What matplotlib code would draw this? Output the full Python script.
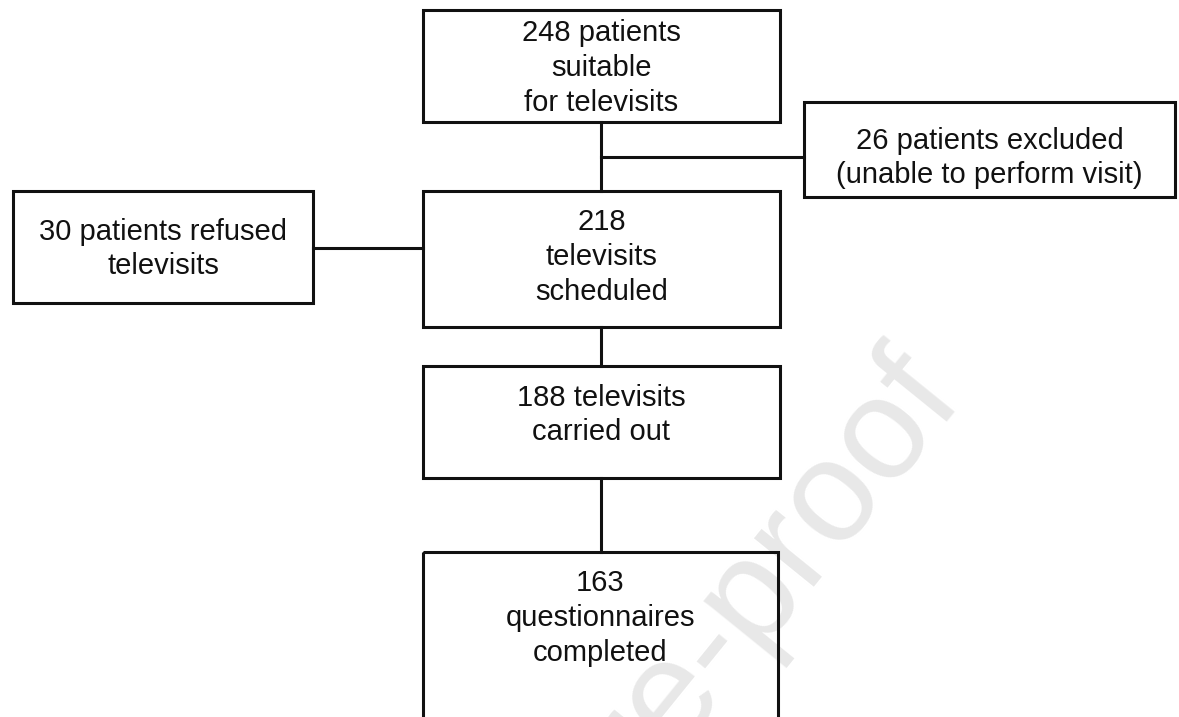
import matplotlib.pyplot as plt
from matplotlib.patches import Rectangle

plt.rcParams['font.family'] = ['Liberation Sans', 'DejaVu Sans']

# box texts of the flow chart
labels = [
    "248 patients\nsuitable\nfor televisits",
    "26 patients excluded\n(unable to perform visit)",
    "30 patients refused\ntelevisits",
    "218\ntelevisits\nscheduled",
    "188 televisits\ncarried out",
    "163\nquestionnaires\ncompleted",
]

# layout in pixel coordinates: (left, top, right, bottom, text_y)
layout = [
    (423, 10, 780, 122, 68),
    (804, 102, 1175, 197, 158),
    (13, 191, 313, 303, 249),
    (423, 191, 780, 327, 257),
    (423, 366, 780, 478, 415),
    (423, 552, 778, 740, 618),
]

W, H = 1179, 717
fig = plt.figure(figsize=(W / 100, H / 100), dpi=100)
ax = fig.add_axes([0, 0, 1, 1])
ax.set_xlim(0, W)
ax.set_ylim(H, 0)
ax.axis('off')

ink = '#111111'
lw = 2.2

# watermark (cut off at the bottom edge as in the source)
ax.text(742, 602, "Pre-proof", fontsize=104, color='#e8e8e8',
        rotation=51, ha='center', va='center', zorder=0)

for txt, (x0, y0, x1, y1, ty) in zip(labels, layout):
    ax.add_patch(Rectangle((x0, y0), x1 - x0, y1 - y0, fill=False,
                           edgecolor=ink, lw=lw, zorder=2))
    ax.text((x0 + x1) / 2, ty, txt, fontsize=21, ha='center', va='center',
            color=ink, linespacing=1.3, zorder=3)

# connectors
cx = 601
ax.plot([cx, cx], [122, 191], color=ink, lw=lw)
ax.plot([cx, 804], [157, 157], color=ink, lw=lw)
ax.plot([313, 423], [248, 248], color=ink, lw=lw)
ax.plot([cx, cx], [327, 366], color=ink, lw=lw)
ax.plot([cx, cx], [478, 552], color=ink, lw=lw)

fig.savefig('out.png', dpi=100, facecolor='white')
